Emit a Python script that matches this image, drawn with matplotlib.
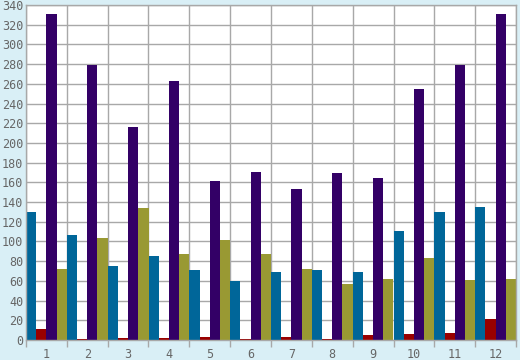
import numpy as np
import matplotlib.pyplot as plt
from matplotlib.ticker import FixedLocator

months = [str(i) for i in range(1, 13)]
blue_vals = [130, 107, 75, 85, 71, 60, 69, 71, 69, 111, 130, 135]
red_vals = [11, 1, 2, 2, 3, 1, 3, 1, 5, 6, 7, 21]
purple_vals = [331, 279, 216, 263, 161, 171, 153, 170, 164, 255, 279, 331]
olive_vals = [72, 104, 134, 87, 101, 87, 72, 57, 62, 83, 61, 62]

series = [blue_vals, red_vals, purple_vals, olive_vals]
colors = ["#006699", "#990000", "#330066", "#999933"]

bg = "#D9EFF6"
grid = "#A8A8A8"
txt = "#666666"

plt.rcParams["font.family"] = "DejaVu Sans Mono"

fig = plt.figure(figsize=(5.2, 3.6), dpi=100, facecolor=bg)
ax = fig.add_axes([26 / 520, 20 / 360, 490 / 520, 335 / 360])
ax.set_facecolor("white")

x = np.arange(len(months))
w = 0.25
for i, (vals, c) in enumerate(zip(series, colors)):
    ax.bar(x - 0.5 + w * (i + 0.5), vals, width=w, color=c, linewidth=0, zorder=2)

ax.set_xlim(-0.5, len(months) - 0.5)
ax.set_ylim(0, 340)
ax.set_yticks(np.arange(0, 341, 20))
ax.set_xticks(x)
ax.set_xticklabels(months)
ax.xaxis.set_minor_locator(FixedLocator(np.arange(-0.5, len(months), 1.0)))

ax.grid(True, which="minor", axis="x", color=grid, linewidth=1, zorder=1)
ax.grid(True, which="major", axis="y", color=grid, linewidth=1, zorder=1)

ax.tick_params(axis="x", which="major", length=0, pad=6, labelsize=8.5, labelcolor=txt)
ax.tick_params(axis="x", which="minor", length=5, color=grid, width=1)
ax.tick_params(axis="y", length=0, pad=2, labelsize=8.5, labelcolor=txt)

for s in ax.spines.values():
    s.set_color(grid)
    s.set_linewidth(1)

fig.savefig("out.png", dpi=100, facecolor=bg)
